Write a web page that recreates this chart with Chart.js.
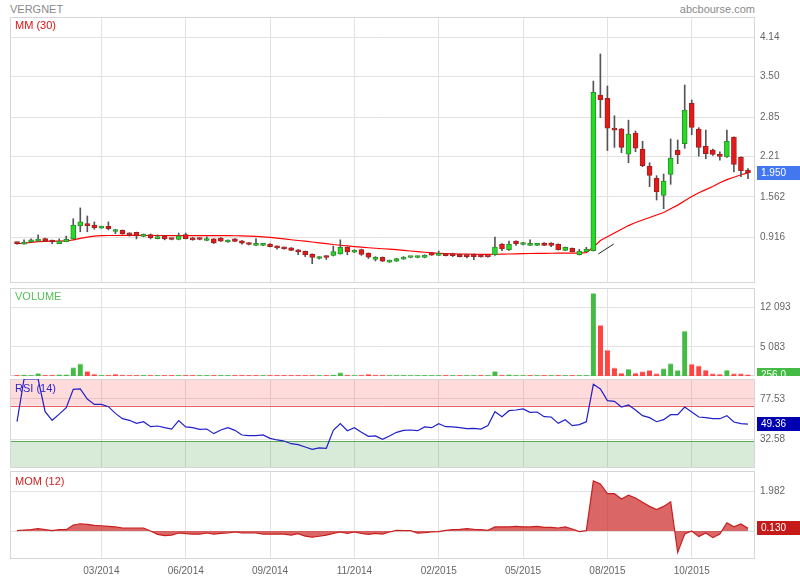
<!DOCTYPE html>
<html>
<head>
<meta charset="utf-8">
<script src="https://cdn.jsdelivr.net/npm/chart.js@4.4.0/dist/chart.umd.min.js"></script>
<style>
  body { margin: 0; background: #fff; width: 800px; height: 580px; position: relative; overflow: hidden;
         font-family: "Liberation Sans", Arial, sans-serif; }
  canvas { position: absolute; left: 0; }
  .lbl { position: absolute; font-size: 11px; line-height: 12px; white-space: nowrap; }
</style>
</head>
<body>
<div class="lbl" style="left:10px;top:3px;color:#8a8a8a">VERGNET</div>
<div class="lbl" style="right:45px;top:3px;color:#8a8a8a">abcbourse.com</div>

<canvas id="price" width="800" height="270" style="top:15px"></canvas>
<canvas id="volume" width="800" height="92" style="top:286px"></canvas>
<canvas id="rsi" width="800" height="93" style="top:377px"></canvas>
<canvas id="mom" width="800" height="111" style="top:469px"></canvas>

<div class="lbl" style="left:15px;top:19px;color:#e01010">MM (30)</div>
<div class="lbl" style="left:15px;top:290px;color:#55c055">VOLUME</div>
<div class="lbl" style="left:15px;top:382px;color:#2a2acc">RSI (14)</div>
<div class="lbl" style="left:15px;top:475px;color:#cc2222">MOM (12)</div>

<script>
// weekly candles, one entry per week
const opens  = [0.83,0.80,0.835,0.85,0.89,0.86,0.81,0.84,0.885,1.10,1.13,1.11,1.06,1.09,1.005,1.025,0.98,0.99,0.925,0.955,
  0.89,0.935,0.885,0.875,0.955,0.885,0.90,0.86,0.885,0.90,0.835,0.885,0.855,0.82,0.78,0.78,0.80,0.77,0.75,0.74,
  0.71,0.685,0.64,0.57,0.61,0.62,0.645,0.75,0.67,0.715,0.655,0.555,0.59,0.51,0.525,0.56,0.585,0.585,0.585,0.665,
  0.62,0.64,0.65,0.635,0.625,0.64,0.615,0.605,0.63,0.80,0.71,0.85,0.795,0.78,0.78,0.82,0.82,0.80,0.70,0.735,
  0.63,0.68,0.695,3.205,3.15,2.66,2.66,2.25,2.59,2.335,2.06,1.862,1.588,1.926,2.318,2.42,3.071,2.657,2.383,2.318,
  2.243,2.205,2.528,2.206,1.995];
const highs  = [0.835,0.87,0.885,0.95,0.90,0.865,0.885,0.93,1.21,1.385,1.255,1.16,1.09,1.16,1.04,1.03,0.985,0.995,0.965,0.965,
  0.95,0.94,0.89,0.98,0.98,0.91,0.905,0.92,0.89,0.905,0.87,0.89,0.86,0.825,0.89,0.80,0.81,0.775,0.755,0.745,
  0.715,0.69,0.645,0.60,0.615,0.77,0.87,0.755,0.71,0.72,0.66,0.60,0.595,0.545,0.575,0.60,0.595,0.61,0.63,0.67,
  0.69,0.65,0.655,0.64,0.63,0.645,0.62,0.61,0.915,0.81,0.85,0.855,0.83,0.87,0.815,0.825,0.825,0.805,0.755,0.74,
  0.715,0.75,3.43,3.866,3.35,2.87,2.665,2.80,2.625,2.46,2.113,1.905,1.932,2.496,2.48,3.366,3.124,2.678,2.64,2.334,
  2.29,2.64,2.53,2.21,2.017];
const lows   = [0.80,0.80,0.83,0.85,0.84,0.81,0.81,0.84,0.88,1.00,1.00,1.04,1.055,1.03,0.97,0.96,0.93,0.885,0.92,0.885,
  0.885,0.87,0.87,0.87,0.885,0.865,0.87,0.855,0.81,0.845,0.83,0.84,0.80,0.79,0.775,0.775,0.755,0.72,0.72,0.695,
  0.63,0.60,0.485,0.56,0.555,0.61,0.64,0.63,0.665,0.62,0.57,0.53,0.52,0.505,0.52,0.555,0.58,0.58,0.58,0.62,
  0.615,0.61,0.60,0.595,0.58,0.55,0.59,0.59,0.62,0.695,0.70,0.78,0.79,0.775,0.775,0.775,0.76,0.705,0.695,0.675,
  0.625,0.675,0.69,2.84,2.31,2.36,2.275,2.113,2.29,2.05,1.727,1.512,1.372,1.766,2.098,2.346,2.565,2.22,2.178,2.23,
  2.153,2.20,1.964,1.888,1.856];
const closes = [0.81,0.83,0.87,0.88,0.85,0.835,0.85,0.88,1.11,1.16,1.10,1.065,1.065,1.05,1.01,0.97,0.95,0.935,0.935,0.905,
  0.915,0.885,0.875,0.935,0.89,0.87,0.875,0.875,0.82,0.85,0.865,0.845,0.815,0.795,0.79,0.79,0.76,0.74,0.725,0.70,
  0.675,0.63,0.585,0.59,0.585,0.68,0.75,0.675,0.70,0.635,0.59,0.58,0.525,0.54,0.57,0.59,0.59,0.595,0.625,0.625,
  0.65,0.615,0.615,0.60,0.60,0.60,0.595,0.595,0.755,0.725,0.80,0.81,0.82,0.79,0.80,0.78,0.78,0.71,0.75,0.68,
  0.69,0.72,3.25,3.13,2.67,2.64,2.36,2.576,2.346,2.065,1.91,1.646,1.819,2.19,2.243,2.963,2.684,2.362,2.259,2.248,
  2.216,2.46,2.088,1.985,1.95];
const ma30   = [0.81,0.815,0.83,0.84,0.845,0.85,0.85,0.852,0.87,0.895,0.915,0.93,0.937,0.94,0.94,0.942,0.942,0.942,0.94,0.94,
  0.94,0.94,0.938,0.938,0.938,0.938,0.937,0.937,0.937,0.937,0.937,0.936,0.935,0.93,0.925,0.918,0.911,0.898,0.885,0.872,
  0.86,0.848,0.835,0.822,0.81,0.795,0.783,0.772,0.762,0.752,0.743,0.735,0.727,0.72,0.712,0.70,0.69,0.68,0.67,0.66,
  0.653,0.648,0.645,0.642,0.64,0.638,0.637,0.637,0.638,0.64,0.642,0.645,0.648,0.65,0.652,0.653,0.654,0.655,0.655,0.655,
  0.656,0.665,0.75,0.86,0.92,0.98,1.04,1.10,1.15,1.19,1.23,1.27,1.31,1.37,1.43,1.50,1.57,1.63,1.68,1.73,
  1.79,1.84,1.88,1.92,1.95];
const volumes = [120,200,180,450,150,150,250,260,1460,2150,800,330,120,150,330,150,120,130,140,120,
  130,120,110,150,120,130,110,140,120,130,150,120,140,130,120,130,150,140,150,130,
  160,140,170,120,130,200,620,150,130,140,330,150,140,130,150,140,130,150,140,130,
  150,140,130,140,150,130,140,130,800,170,230,160,150,140,130,120,130,140,130,120,
  150,160,14490,8880,4560,1450,530,1230,530,760,990,410,1290,2160,990,7890,2100,1800,1050,410,
  350,1050,410,410,256];
const rsi14 = [52,100,100,100,63.3,53.6,60.5,67.8,88.4,88.8,77.5,71.5,71.5,68.9,61.4,55.4,53.6,50.2,52,46.4,
  47.2,45.3,43.8,53.2,46.1,45.3,43.4,43.8,38.6,42.7,45.3,42.3,37.1,36.3,36.3,37.1,33.3,31.5,30.3,27.3,
  26.2,23.6,21,22.5,22.1,42.3,49.8,41.9,45.3,40.1,35.6,36,32.2,36,40.1,42.3,42.7,41.9,46.1,45.3,
  49.8,46.4,46.1,45.3,44.2,44.6,43.8,47.6,63.3,57.7,64.4,65.2,66.3,62.5,62.9,57.7,57.3,50.2,54.3,47.6,
  48.7,52,94,88.8,75.7,74.9,68.5,70.8,65.2,58.8,56.6,52,54.3,59.9,59.9,68.5,62.9,57.3,56.6,55.4,
  55.4,58.8,51.7,49.8,49.36];
const mom12 = [0.017,0.05,0.066,0.116,0.066,0.017,0.066,0.066,0.30,0.36,0.33,0.28,0.26,0.23,0.20,0.15,0.15,0.15,0.15,0,
  -0.165,-0.23,-0.20,-0.10,-0.13,-0.15,-0.15,-0.10,-0.15,-0.12,-0.10,-0.05,-0.10,-0.10,-0.10,-0.15,-0.15,-0.15,-0.15,-0.20,
  -0.13,-0.25,-0.30,-0.26,-0.20,-0.12,-0.05,-0.12,-0.05,-0.12,-0.165,-0.12,-0.15,-0.05,0.03,0.017,0.017,-0.10,-0.08,-0.05,
  -0.03,0.03,0.066,0.08,0.116,0.08,0.066,0.03,0.20,0.20,0.20,0.23,0.20,0.20,0.23,0.18,0.18,0.15,0.20,0.10,
  -0.03,0.017,2.48,2.33,1.85,1.85,1.585,1.78,1.635,1.42,1.22,1.06,1.22,1.45,-1.06,-0.15,0,-0.28,-0.10,-0.33,
  -0.15,0.41,0.21,0.35,0.13];
// short hand-drawn segment on the price panel (week index, price)
const trendLine = [{x: 82.7, y: 0.642}, {x: 84.9, y: 0.803}];

const xTickIdx = [12, 24, 36, 48, 60, 72, 84, 96];
const xTickLabels = ['03/2014','06/2014','09/2014','11/2014','02/2015','05/2015','08/2015','10/2015'];
const priceTicks = [4.14, 3.50, 2.85, 2.21, 1.562, 0.916];
const priceTickLabels = ['4.14','3.50','2.85','2.21','1.562','0.916'];
const volumeTicks = [12093, 5083];
const volumeTickLabels = ['12 093','5 083'];
const rsiTicks = [77.53, 32.58];
const rsiTickLabels = ['77.53','32.58'];
const momTicks = [1.982, 0];
const momTickLabels = ['1.982',''];

const FONT = '"Liberation Sans", Arial, sans-serif';
Chart.defaults.font.family = FONT;
Chart.defaults.animation = false;

const panelFrame = {
  id: 'panelFrame',
  beforeDatasetsDraw(chart, args, opts) {
    const { ctx, chartArea: a } = chart;
    const y = chart.scales.y;
    ctx.save();
    (opts.bands || []).forEach(b => {
      const top = y.getPixelForValue(b.to), bot = y.getPixelForValue(b.from);
      ctx.fillStyle = b.fill;
      ctx.fillRect(a.left, top, a.width, bot - top);
      const ly = Math.round(y.getPixelForValue(b.line)) + 0.5;
      ctx.strokeStyle = b.lineColor;
      ctx.lineWidth = 1;
      ctx.beginPath(); ctx.moveTo(a.left, ly); ctx.lineTo(a.right, ly); ctx.stroke();
    });
    ctx.strokeStyle = '#d6d6d6';
    ctx.lineWidth = 1;
    ctx.strokeRect(a.left + 0.5, a.top + 0.5, a.width - 1, a.height - 1);
    ctx.restore();
  },
  afterDraw(chart, args, opts) {
    if (!opts.boxText) return;
    const { ctx, chartArea: a } = chart;
    const y = chart.scales.y.getPixelForValue(opts.boxValue);
    ctx.save();
    if (opts.boxClip) { ctx.beginPath(); ctx.rect(0, 0, chart.width, a.bottom); ctx.clip(); }
    ctx.fillStyle = opts.boxColor;
    ctx.fillRect(a.right + 2, Math.round(y - 7), chart.width - a.right - 2, 14);
    ctx.fillStyle = '#fff';
    ctx.font = '10px ' + FONT;
    ctx.textBaseline = 'middle';
    ctx.fillText(opts.boxText, a.right + 6, Math.round(y) + 0.5);
    ctx.restore();
  }
};

function xAxis(showLabels) {
  return {
    type: 'linear', min: -1, max: 105, offset: false,
    grid: { color: '#e2e2e2', drawTicks: false, offset: false },
    border: { display: false },
    afterBuildTicks: s => { s.ticks = xTickIdx.map(v => ({ value: v })); },
    ticks: { display: showLabels, padding: 6, color: '#666', font: { size: 10 }, maxRotation: 0, autoSkip: false,
             callback: v => xTickLabels[xTickIdx.indexOf(v)] ?? '' },
    afterFit: s => { s.height = showLabels ? 21 : 0; s.paddingLeft = 0; s.paddingRight = 0; }
  };
}

function yAxis(min, max, vals, labels) {
  return {
    position: 'right', min, max,
    grid: { color: '#e2e2e2', drawTicks: false },
    border: { display: false },
    afterBuildTicks: s => { s.ticks = vals.map(v => ({ value: v })); },
    ticks: { padding: 5, color: '#666', font: { size: 10 }, callback: v => labels[vals.indexOf(v)] ?? '' },
    afterFit: s => { s.width = 45; s.paddingTop = 0; s.paddingBottom = 0; }
  };
}

function baseOptions(x, y, frame, bottomPad) {
  return {
    responsive: false, devicePixelRatio: 1,
    layout: { padding: { left: 10, right: 0, top: 2, bottom: bottomPad } },
    plugins: { legend: { display: false }, tooltip: { enabled: false }, panelFrame: frame },
    scales: { x, y }
  };
}

const up = closes.map((c, i) => c >= opens[i]);
const volUp = closes.map((c, i) => i === 0 ? c >= opens[0] : c >= closes[i - 1]);

new Chart(document.getElementById('price'), {
  type: 'bar',
  plugins: [panelFrame],
  data: {
    datasets: [
      { type: 'line', data: ma30.map((v, i) => ({ x: i, y: v })), borderColor: '#ff0000', borderWidth: 1.2,
        pointRadius: 0, tension: 0, order: 3 },
      { data: lows.map((l, i) => ({ x: i, y: [l, highs[i]] })), backgroundColor: '#555', barThickness: 1,
        grouped: false, order: 2 },
      { data: opens.map((o, i) => ({ x: i, y: [o, closes[i]] })),
        backgroundColor: up.map(u => u ? '#22dd22' : '#e61919'),
        borderColor: up.map(u => u ? '#2b8f2b' : '#a02020'),
        borderWidth: 1, borderSkipped: false, barThickness: 5, minBarLength: 2, grouped: false, order: 1 },
      { type: 'line', data: trendLine, borderColor: '#222', borderWidth: 1, pointRadius: 0, order: 0 }
    ]
  },
  options: baseOptions(xAxis(false), yAxis(0.1745, 4.4624, priceTicks, priceTickLabels),
    { boxText: closes[closes.length - 1].toFixed(3), boxValue: closes[closes.length - 1], boxColor: '#4277f0' }, 2)
});

new Chart(document.getElementById('volume'), {
  type: 'bar',
  plugins: [panelFrame],
  data: {
    datasets: [{
      data: volumes.map((v, i) => ({ x: i, y: v })),
      backgroundColor: volUp.map(u => u ? '#44bb44' : '#ff4444'),
      borderColor: volUp.map(u => u ? '#a6e0a6' : '#ffabab'),
      borderWidth: { top: 1, left: 0, right: 0, bottom: 0 }, barThickness: 5
    }]
  },
  options: baseOptions(xAxis(false), yAxis(0, 15423, volumeTicks, volumeTickLabels),
    { boxText: volumes[volumes.length - 1].toFixed(1), boxValue: volumes[volumes.length - 1], boxColor: '#44bb44', boxClip: true }, 2)
});

new Chart(document.getElementById('rsi'), {
  type: 'line',
  plugins: [panelFrame],
  data: {
    datasets: [{ data: rsi14.map((v, i) => ({ x: i, y: v })), borderColor: '#2020c8', borderWidth: 1.2,
                 pointRadius: 0, tension: 0 }]
  },
  options: baseOptions(xAxis(false), yAxis(0, 100, rsiTicks, rsiTickLabels), {
    bands: [
      { from: 70, to: 100, fill: 'rgba(255,40,40,0.17)', line: 70, lineColor: '#e86060' },
      { from: 0, to: 30, fill: 'rgba(60,150,60,0.2)', line: 30, lineColor: '#5aaa5a' }
    ],
    boxText: rsi14[rsi14.length - 1].toFixed(2), boxValue: rsi14[rsi14.length - 1], boxColor: '#0000b0'
  }, 2)
});

new Chart(document.getElementById('mom'), {
  type: 'line',
  plugins: [panelFrame],
  data: {
    datasets: [{ data: mom12.map((v, i) => ({ x: i, y: v })), borderColor: '#c81e1e', borderWidth: 1.2,
                 backgroundColor: 'rgba(200,30,30,0.68)', fill: 'origin', pointRadius: 0, tension: 0 }]
  },
  options: baseOptions(xAxis(true), yAxis(-1.387, 2.973, momTicks, momTickLabels),
    { boxText: mom12[mom12.length - 1].toFixed(3), boxValue: mom12[mom12.length - 1], boxColor: '#c41a1a' }, 0)
});
</script>
</body>
</html>
